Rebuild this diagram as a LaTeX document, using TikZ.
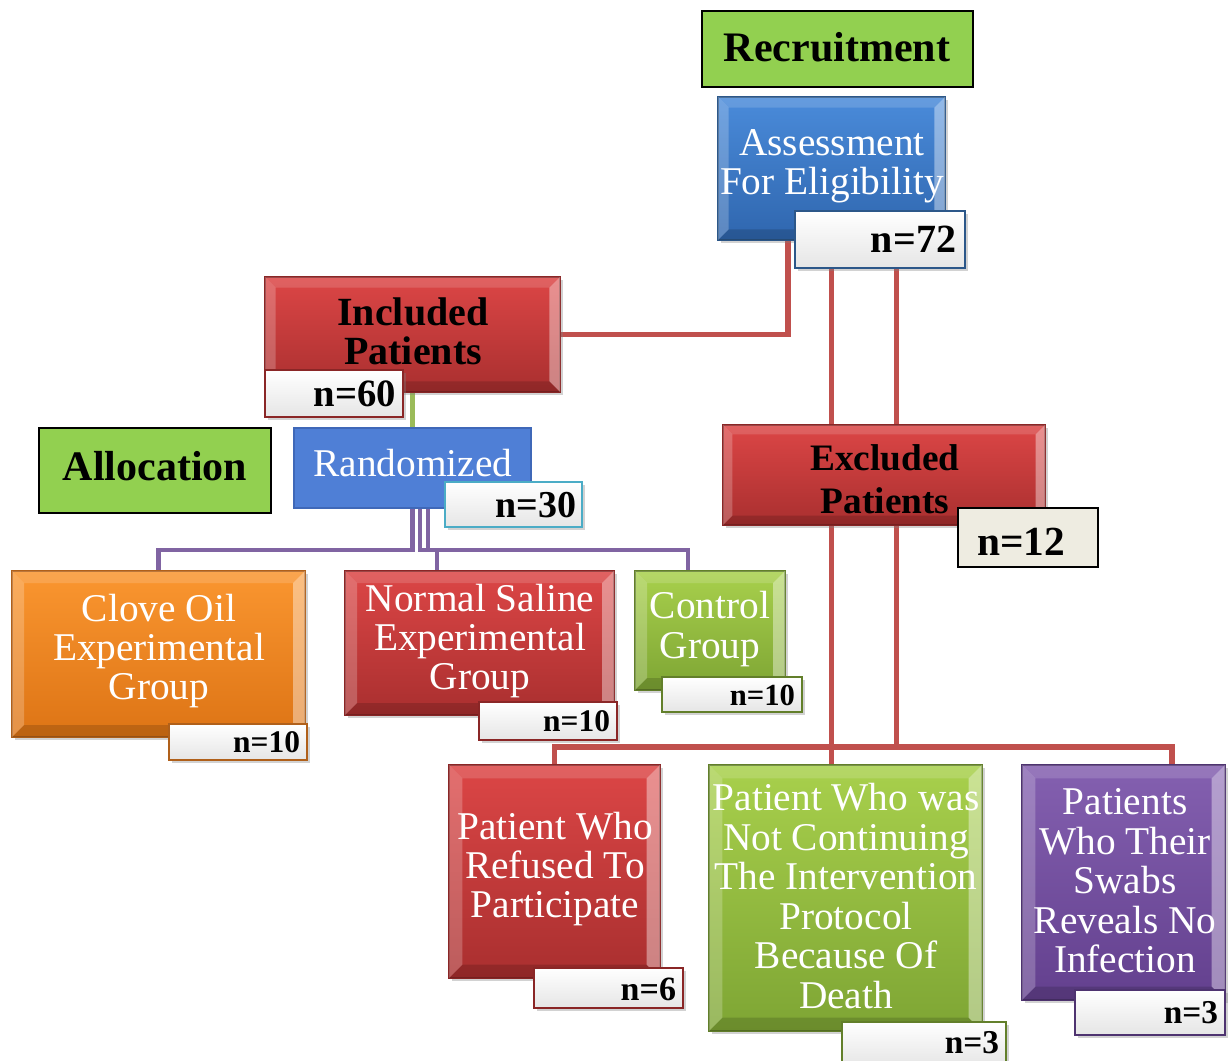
\documentclass[tikz,border=0pt]{standalone}
\usepackage{fontspec}
\setmainfont{Liberation Serif}
\usetikzlibrary{calc,shadows}
\pgfdeclarelayer{bg}
\pgfsetlayers{bg,main}
\definecolor{cblueT}{HTML}{4A8BDA}\definecolor{cblueB}{HTML}{2F66AE}\definecolor{cblueD}{HTML}{2C5789}
\definecolor{credT}{HTML}{DC4646}\definecolor{credB}{HTML}{A92F2F}\definecolor{credD}{HTML}{8A2626}
\definecolor{corT}{HTML}{FA9630}\definecolor{corB}{HTML}{DD7415}\definecolor{corD}{HTML}{B0601A}
\definecolor{cgrT}{HTML}{A8D04C}\definecolor{cgrB}{HTML}{7EA534}\definecolor{cgrD}{HTML}{627F2A}
\definecolor{cpuT}{HTML}{8460B0}\definecolor{cpuB}{HTML}{63408E}\definecolor{cpuD}{HTML}{4E3370}
\definecolor{hdr}{HTML}{92D050}
\definecolor{lred}{HTML}{C0504D}\definecolor{lpur}{HTML}{8064A2}\definecolor{lgrn}{HTML}{9BBB59}
\definecolor{rnd}{HTML}{4F7FD6}\definecolor{rndD}{HTML}{3F68B8}
\definecolor{nbeige}{HTML}{EEECE1}\definecolor{cteal}{HTML}{4BACC6}
\newcommand\mkbox[6]{%
  \pgfmathsetmacro\bw{(#5-#3)*0.75}%
  \pgfmathsetmacro\bh{(#6-#4)*0.75}%
  \node[#2, minimum width=\bw pt, minimum height=\bh pt] (#1) at ({(#3+#5)/2},{(#4+#6)/2}) {};}
\newcommand\bev[2]{%
  \fill[white,opacity=0.15] (#1.north west) -- (#1.north east) -- ([shift={(-#2pt,-#2pt)}]#1.north east) -- ([shift={(#2pt,-#2pt)}]#1.north west) -- cycle;
  \fill[white,opacity=0.22] (#1.north west) -- ([shift={(#2pt,-#2pt)}]#1.north west) -- ([shift={(#2pt,#2pt)}]#1.south west) -- (#1.south west) -- cycle;
  \fill[white,opacity=0.4] (#1.north east) -- (#1.south east) -- ([shift={(-#2pt,#2pt)}]#1.south east) -- ([shift={(-#2pt,-#2pt)}]#1.north east) -- cycle;
  \fill[black,opacity=0.15] (#1.south west) -- (#1.south east) -- ([shift={(-#2pt,#2pt)}]#1.south east) -- ([shift={(#2pt,#2pt)}]#1.south west) -- cycle;}
\tikzset{
  every node/.style={inner sep=0pt, outer sep=0pt},
  sh/.style={drop shadow={opacity=0.35,shadow xshift=2.5pt,shadow yshift=-2.5pt}},
  bluebox/.style={sh, rectangle, top color=cblueT, bottom color=cblueB, draw=cblueD, line width=0.8pt},
  redbox/.style={sh, rectangle, top color=credT, bottom color=credB, draw=credD, line width=0.8pt},
  orbox/.style={sh, rectangle, top color=corT, bottom color=corB, draw=corD, line width=0.8pt},
  grbox/.style={sh, rectangle, top color=cgrT, bottom color=cgrB, draw=cgrD, line width=0.8pt},
  pubox/.style={sh, rectangle, top color=cpuT, bottom color=cpuB, draw=cpuD, line width=0.8pt},
  hdrbox/.style={rectangle, fill=hdr, draw=black, line width=1pt},
  rndbox/.style={rectangle, fill=rnd, draw=rndD, line width=0.8pt},
  nbox/.style={sh, rectangle, top color=white, bottom color=gray!20, line width=1.3pt},
  beigebox/.style={rectangle, fill=nbeige, draw=black, line width=1pt},
  wtxt/.style={text=white, align=center, font={\fontsize{29.5}{29.6}\selectfont}},
  btxt/.style={text=black, align=center, font={\bfseries\fontsize{30}{29.5}\selectfont}},
  ntxt/.style={text=black, anchor=east, font={\bfseries\fontsize{#1}{#1}\selectfont}},
  redln/.style={draw=lred, line width=4pt},
  purln/.style={draw=lpur, line width=3.5pt},
  grnln/.style={draw=lgrn, line width=3.5pt}
}
\begin{document}
\begin{tikzpicture}[x=0.75pt,y=-0.75pt]
\useasboundingbox (0,0) rectangle (1231,1060);
% headers
\mkbox{rec}{hdrbox}{702}{11}{973}{87}
\node[btxt, font={\bfseries\fontsize{31.5}{32}\selectfont}] (rect) at (837,47) {Recruitment};
\mkbox{alc}{hdrbox}{39}{428}{271}{513}
\node[btxt, font={\bfseries\fontsize{31.5}{32}\selectfont}] (alct) at (155,466) {Allocation};
% assessment
\mkbox{asm}{bluebox}{718}{97}{945}{240}\bev{asm}{8}
\node[wtxt] (asmt) at (832,166) {Assessment\\For Eligibility};
% included
\mkbox{inc}{redbox}{265}{277}{560}{392}\bev{inc}{8}
\node[btxt] (inct) at (413,331) {Included\\Patients};
% randomized
\mkbox{rnd}{rndbox}{294}{428}{531}{508}
\node[wtxt] (rndt) at (413,463) {Randomized};
% excluded
\mkbox{exc}{redbox}{723}{425}{1045}{525}\bev{exc}{7}
\node[btxt, font={\bfseries\fontsize{28}{32}\selectfont}] (exct) at (885,479) {Excluded\\Patients};
% groups
\mkbox{clv}{orbox}{12}{571}{305}{737}\bev{clv}{9}
\node[wtxt] (clvt) at (159,651) {Clove Oil\\Experimental\\Group};
\mkbox{ns}{redbox}{345}{571}{614}{715}\bev{ns}{9}
\node[wtxt] (nst) at (480,641) {Normal Saline\\Experimental\\Group};
\mkbox{ctl}{grbox}{635}{571}{785}{690}\bev{ctl}{9}
\node[wtxt] (ctlt) at (710,629) {Control\\Group};
% excluded reasons
\mkbox{ref}{redbox}{449}{765}{660}{978}\bev{ref}{10}
\node[wtxt] (reft) at (555,869) {Patient Who\\Refused To\\Participate};
\mkbox{mid}{grbox}{709}{765}{982}{1031}\bev{mid}{10}
\node[wtxt] (midt) at (846,896) {Patient Who was\\Not Continuing\\The Intervention\\Protocol\\Because Of\\Death};
\mkbox{pur}{pubox}{1022}{765}{1225}{1000}\bev{pur}{10}
\node[wtxt] (purt) at (1125,881) {Patients\\Who Their\\Swabs\\Reveals No\\Infection};
% connectors
\coordinate (rbus) at (0,747);
\coordinate (pbus) at (0,550);
\begin{pgfonlayer}{bg}
\fill[white] (0,0) rectangle (1231,1060);
\draw[redln] ([xshift=-32.6pt]asm.south) |- (inc.east);
\draw[redln] (asm.south) -- (asm.south |- mid.north);
\draw[redln] ([xshift=48.8pt]asm.south) -- ([xshift=48.8pt]asm.south |- rbus) -| (ref.north);
\draw[redln] ([xshift=48.8pt]asm.south |- rbus) -| ([xshift=36.4pt]pur.north);
\draw[grnln] (inc.south) -- (rnd.north);
\draw[purln] (rnd.south) -- (rnd.south |- pbus) -| (clv.north);
\draw[purln] ([xshift=5.5pt]rnd.south) -- ([xshift=5.5pt]rnd.south |- pbus) -| ([xshift=-31.9pt]ns.north);
\draw[purln] ([xshift=11.5pt]rnd.south) -- ([xshift=11.5pt]rnd.south |- pbus) -| ([xshift=-16.5pt]ctl.north);
\end{pgfonlayer}
% count labels
\mkbox{n72}{nbox, draw=cblueD}{795}{211}{965}{268}
\node[ntxt=30] (n72t) at (956,239) {n=72};
\mkbox{n60}{nbox, draw=credD}{265}{370}{403}{417}
\node[ntxt=29] (n60t) at (396,394) {n=60};
\mkbox{n30}{nbox, draw=cteal}{445}{482}{582}{527}
\node[ntxt=28.5] (n30t) at (576,505) {n=30};
\mkbox{n12}{beigebox}{958}{508}{1098}{567}
\node[btxt, font={\bfseries\fontsize{31}{31}\selectfont}] (n12t) at (1021,542) {n=12};
\mkbox{nc}{nbox, draw=corD}{169}{724}{307}{760}
\node[ntxt=23.6] (nct) at (300,742) {n=10};
\mkbox{nn}{nbox, draw=credD}{479}{702}{617}{740}
\node[ntxt=23.6] (nnt) at (610,721) {n=10};
\mkbox{nk}{nbox, draw=cgrD}{662}{677}{802}{712}
\node[ntxt=23] (nkt) at (795,695) {n=10};
\mkbox{nr}{nbox, draw=credD}{534}{968}{683}{1008}
\node[ntxt=25.5] (nrt) at (676,989) {n=6};
\mkbox{nm}{nbox, draw=cgrD}{842}{1022}{1006}{1066}
\node[ntxt=25] (nmt) at (999,1043) {n=3};
\mkbox{np}{nbox, draw=cpuD}{1075}{990}{1225}{1035}
\node[ntxt=25] (npt) at (1218,1013) {n=3};
\end{tikzpicture}
\end{document}
